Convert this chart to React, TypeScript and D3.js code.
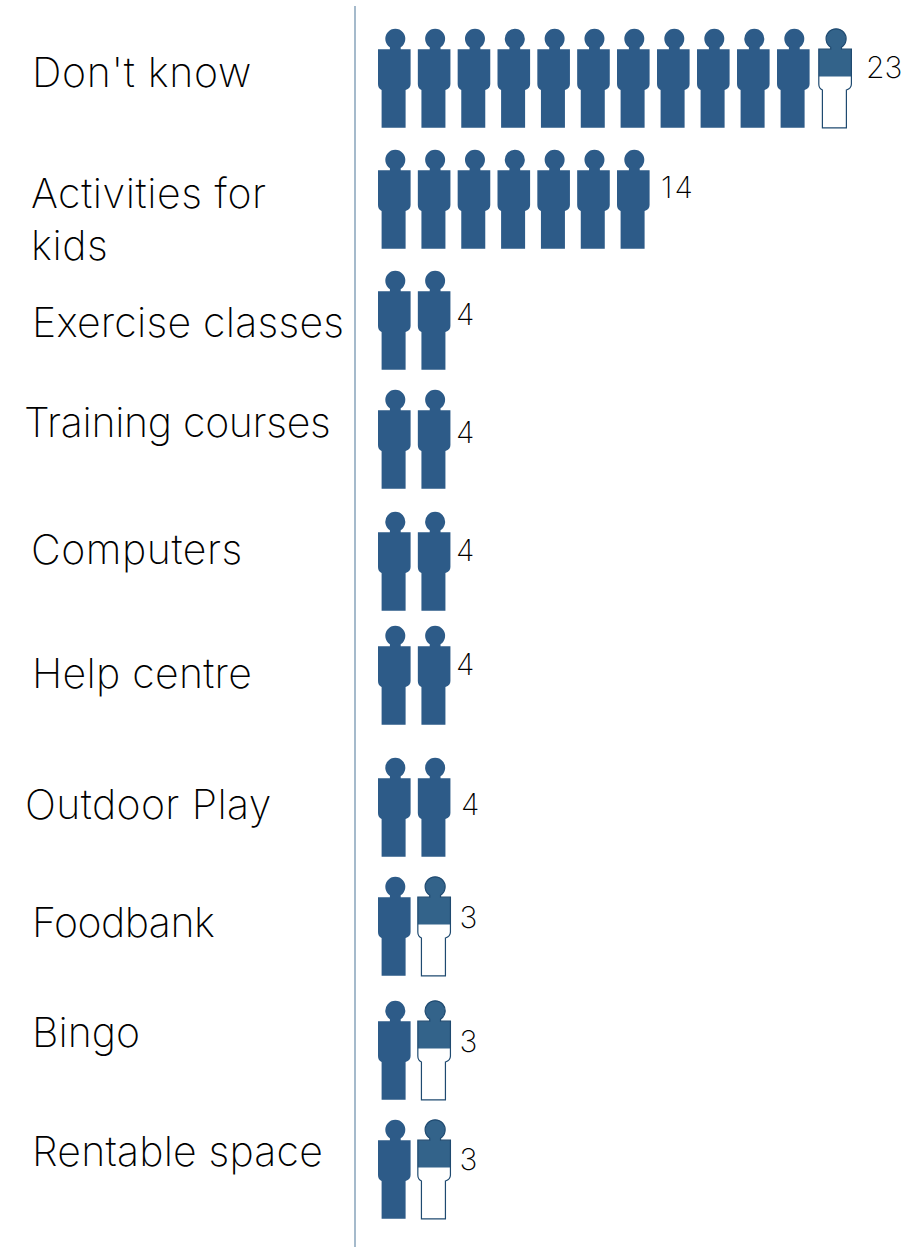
import React from "react";
import * as d3 from "d3";

const categories = ["Don't know", "Activities for kids", "Exercise classes", "Training courses", "Computers", "Help centre", "Outdoor Play", "Foodbank", "Bingo", "Rentable space"];
const values = [23, 14, 4, 4, 4, 4, 4, 3, 3, 3];
const unitsPerIcon = 2;

// hand-placed layout of the original infographic
const rowTops = [29, 150, 271, 390, 512, 626, 758, 877, 1001, 1120];
const labelX = [32, 31, 32, 24, 31, 32, 25, 32, 32, 32];
const labelY = [87, 208, 337, 437, 564, 688, 819, 937, 1047, 1166];
const labelSpacing = [0.7, 0.6, 0.25, -0.3, 0.55, 0.3, 0.4, -0.5, 0, 0.2];
const valueX = [866, 661, 456, 456, 456, 456, 461, 459.5, 459.5, 459.5];
const valueY = [77.5, 197.5, 324.5, 442.5, 560.5, 674.5, 814.5, 927.5, 1051.5, 1169.5];
const valueSpacing = [0, 2, 0, 0, 0, 0, 0, 0, 0, 0];

const W = 909, H = 1247;
const FONT = "Inter, Roboto, 'Liberation Sans', sans-serif";
const FULL = "#2d5b88", PART = "#33638a", EDGE = "#1f4a70", AXIS = "#8fa9bf";

const xIcon = d3.scaleLinear().domain([0, 6, 10, 11]).range([378, 617, 777, 818.8]);
const iconH = d3.scaleLinear().domain([0, 1]).range([0, 98.8]);

function personPath(): string {
  const p = d3.path();
  const cx = 17.3, cy = 9.8, r = 10, neck = 5.4;
  const a = Math.asin(neck / r);
  p.moveTo(cx - neck, 20.2);
  p.lineTo(cx - neck, cy + r * Math.cos(a));
  p.arc(cx, cy, r, Math.PI / 2 + a, Math.PI / 2 - a);
  p.lineTo(cx + neck, 20.2);
  p.lineTo(32.6, 20.2);
  p.lineTo(32.6, 55);
  p.quadraticCurveTo(32.6, 59.5, 27.6, 61);
  p.lineTo(27.6, 98.8);
  p.lineTo(3.6, 98.8);
  p.lineTo(3.6, 61);
  p.quadraticCurveTo(0, 59.5, 0, 55);
  p.lineTo(0, 20.2);
  p.closePath();
  return p.toString();
}
const D = personPath();

export default function App() {
  const rows = categories.map((name, r) => {
    const icons = values[r] / unitsPerIcon;
    const n = Math.ceil(icons);
    const words = name === "Activities for kids" ? ["Activities for", "kids"] : [name];
    return { name, r, icons, n, words };
  });
  return (
    <svg width={W} height={H} viewBox={`0 0 ${W} ${H}`} style={{ position: "absolute", left: 0, top: 0, display: "block", background: "#fff" }}>
      <line x1={355} x2={355} y1={6} y2={1247} stroke={AXIS} strokeWidth={1.6} />
      {rows.map(({ name, r, icons, n, words }) => (
        <g key={name}>
          {words.map((w, i) => (
            <text key={w} x={labelX[r]} y={labelY[r] + i * 52} fontFamily={FONT} fontWeight={200} fontSize={41} letterSpacing={labelSpacing[r]} fill="#000">{w}</text>
          ))}
          {d3.range(n).map((i) => {
            const frac = Math.min(1, icons - i);
            const tx = xIcon(i), ty = rowTops[r];
            if (frac >= 1) return <path key={i} d={D} transform={`translate(${tx},${ty})`} fill={FULL} />;
            const id = `clip-${r}-${i}`;
            return (
              <g key={i} transform={`translate(${tx},${ty})`}>
                <clipPath id={id}><rect x={-2} y={-2} width={38} height={iconH(frac)} /></clipPath>
                <path d={D} fill="#fff" />
                <path d={D} fill={PART} clipPath={`url(#${id})`} />
                <path d={D} fill="none" stroke={EDGE} strokeWidth={1.2} />
              </g>
            );
          })}
          <text x={valueX[r]} y={valueY[r]} fontFamily={FONT} fontWeight={200} fontSize={30} letterSpacing={valueSpacing[r]} fill="#000">{values[r]}</text>
        </g>
      ))}
    </svg>
  );
}
